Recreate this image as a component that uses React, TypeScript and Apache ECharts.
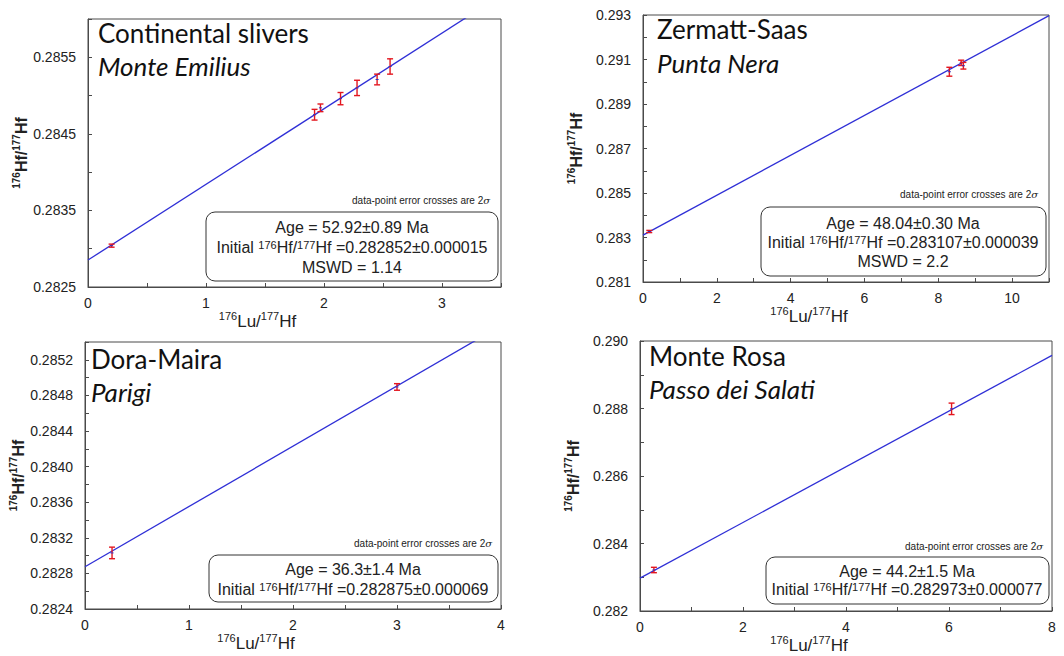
import React, { useEffect, useRef } from 'react';
import * as echarts from 'echarts';

// ---------- Panel 1: Continental slivers / Monte Emilius ----------
const p1Lu = [0.2, 1.92, 1.97, 2.14, 2.28, 2.45, 2.56];
const p1Hf = [0.28304, 0.28475, 0.28484, 0.28496, 0.2851, 0.28521, 0.28538];
const p1Err = [0.00002, 0.00007, 0.00005, 0.00008, 0.0001, 0.00007, 0.0001];
const p1LineLu = [0, 3.5];
const p1LineHf = [0.282852, 0.28631];
const p1Title = ['Continental slivers', 'Monte Emilius'];
const p1Legend = ['Age = 52.92±0.89 Ma', 'Initial {sup|176}Hf/{sup|177}Hf =0.282852±0.000015', 'MSWD = 1.14'];

// ---------- Panel 2: Zermatt-Saas / Punta Nera ----------
const p2Lu = [0.17, 8.3, 8.62, 8.68];
const p2Hf = [0.28327, 0.29045, 0.29085, 0.29072];
const p2Err = [0.00005, 0.0002, 0.00012, 0.00015];
const p2LineLu = [0, 11];
const p2LineHf = [0.283107, 0.29297];
const p2Title = ['Zermatt-Saas', 'Punta Nera'];
const p2Legend = ['Age = 48.04±0.30 Ma', 'Initial {sup|176}Hf/{sup|177}Hf =0.283107±0.000039', 'MSWD = 2.2'];

// ---------- Panel 3: Dora-Maira / Parigi ----------
const p3Lu = [0.26, 3.0];
const p3Hf = [0.28303, 0.284895];
const p3Err = [0.000065, 0.000037];
const p3LineLu = [0, 4];
const p3LineHf = [0.282875, 0.285583];
const p3Title = ['Dora-Maira', 'Parigi'];
const p3Legend = ['Age = 36.3±1.4 Ma', 'Initial {sup|176}Hf/{sup|177}Hf =0.282875±0.000069'];

// ---------- Panel 4: Monte Rosa / Passo dei Salati ----------
const p4Lu = [0.27, 6.05];
const p4Hf = [0.283215, 0.28799];
const p4Err = [0.00008, 0.00017];
const p4LineLu = [0, 8];
const p4LineHf = [0.282973, 0.289573];
const p4Title = ['Monte Rosa', 'Passo dei Salati'];
const p4Legend = ['Age = 44.2±1.5 Ma', 'Initial {sup|176}Hf/{sup|177}Hf =0.282973±0.000077'];

const noteText = 'data-point error crosses are 2{i|σ}';
const xName = '{sup|176}{n|Lu/}{sup|177}{n|Hf}';
const yName = '{sup|176}{n|Hf/}{sup|177}{n|Hf}';

const AXIS_COLOR = '#4a4a4a';
const LABEL_FONT = 'Liberation Sans, Arial, sans-serif';
const TITLE_FONT = 'Lato, "Noto Sans", sans-serif';

type Layout = {
  grid: { left: number; top: number; width: number; height: number };
  x: { max: number; interval: number; every: number };
  y: { min: number; max: number; interval: number; every: number; dec: number };
  title: { x: number; y1: number; y2: number };
  box: { x: number; y: number; w: number; h: number; cx: number; ys: number[] };
  note: { x: number; y: number };
};

const layouts: Layout[] = [
  {
    grid: { left: 88, top: 19, width: 413, height: 268 },
    x: { max: 3.5, interval: 0.5, every: 1 },
    y: { min: 0.2825, max: 0.286, interval: 0.0005, every: 0.001, dec: 4 },
    title: { x: 98, y1: 33, y2: 66 },
    box: { x: 206, y: 212, w: 292, h: 69, cx: 352, ys: [227, 247, 267] },
    note: { x: 490, y: 200 },
  },
  {
    grid: { left: 643, top: 15, width: 406, height: 267 },
    x: { max: 11, interval: 1, every: 2 },
    y: { min: 0.281, max: 0.293, interval: 0.001, every: 0.002, dec: 3 },
    title: { x: 657, y1: 29, y2: 63 },
    box: { x: 761, y: 207, w: 285, h: 69, cx: 903, ys: [223, 242, 261] },
    note: { x: 1038, y: 194 },
  },
  {
    grid: { left: 85, top: 342, width: 416, height: 267 },
    x: { max: 4, interval: 0.5, every: 1 },
    y: { min: 0.2824, max: 0.2854, interval: 0.0002, every: 0.0004, dec: 4 },
    title: { x: 91, y1: 359, y2: 392 },
    box: { x: 209, y: 555, w: 289, h: 47, cx: 353, ys: [569, 589] },
    note: { x: 492, y: 543 },
  },
  {
    grid: { left: 640, top: 341, width: 412, height: 270 },
    x: { max: 8, interval: 1, every: 2 },
    y: { min: 0.282, max: 0.29, interval: 0.001, every: 0.002, dec: 3 },
    title: { x: 649, y1: 356, y2: 389 },
    box: { x: 766, y: 557, w: 283, h: 47, cx: 907, ys: [571, 589] },
    note: { x: 1043, y: 546 },
  },
];

const panelData = [
  { lu: p1Lu, hf: p1Hf, err: p1Err, lineLu: p1LineLu, lineHf: p1LineHf, title: p1Title, legend: p1Legend },
  { lu: p2Lu, hf: p2Hf, err: p2Err, lineLu: p2LineLu, lineHf: p2LineHf, title: p2Title, legend: p2Legend },
  { lu: p3Lu, hf: p3Hf, err: p3Err, lineLu: p3LineLu, lineHf: p3LineHf, title: p3Title, legend: p3Legend },
  { lu: p4Lu, hf: p4Hf, err: p4Err, lineLu: p4LineLu, lineHf: p4LineHf, title: p4Title, legend: p4Legend },
];

const isLabeled = (v: number, min: number, every: number) => {
  const k = (v - min) / every;
  return Math.abs(k - Math.round(k)) < 1e-6;
};

function buildOption() {
  const grid: any[] = [];
  const xAxis: any[] = [];
  const yAxis: any[] = [];
  const series: any[] = [];
  const graphic: any[] = [];

  layouts.forEach((L, i) => {
    const D = panelData[i];
    grid.push({
      ...L.grid,
      show: true,
      borderColor: AXIS_COLOR,
      borderWidth: 1,
      backgroundColor: 'transparent',
    });
    xAxis.push({
      type: 'value',
      gridIndex: i,
      min: 0,
      max: L.x.max,
      interval: L.x.interval,
      axisLine: { show: true, onZero: false, lineStyle: { color: AXIS_COLOR, width: 1 } },
      axisTick: { show: true, inside: true, length: 4, lineStyle: { color: AXIS_COLOR } },
      splitLine: { show: false },
      axisLabel: {
        color: '#222',
        fontSize: 14,
        fontFamily: LABEL_FONT,
        margin: 9,
        formatter: (v: number) => (isLabeled(v, 0, L.x.every) ? String(Math.round(v)) : ''),
      },
      name: xName,
      nameLocation: 'middle',
      nameGap: 23,
      nameTextStyle: {
        color: '#222',
        fontFamily: LABEL_FONT,
        padding: [0, 74, 0, 0],
        rich: {
          n: { fontSize: 17, fontFamily: LABEL_FONT, color: '#222', lineHeight: 19, verticalAlign: 'bottom' },
          sup: { fontSize: 11, fontFamily: LABEL_FONT, color: '#222', lineHeight: 11, verticalAlign: 'top' },
        },
      },
    });
    yAxis.push({
      type: 'value',
      gridIndex: i,
      min: L.y.min,
      max: L.y.max,
      interval: L.y.interval,
      axisLine: { show: true, onZero: false, lineStyle: { color: AXIS_COLOR, width: 1 } },
      axisTick: { show: true, inside: true, length: 4, lineStyle: { color: AXIS_COLOR } },
      splitLine: { show: false },
      axisLabel: {
        color: '#222',
        fontSize: 14,
        fontFamily: LABEL_FONT,
        margin: 12,
        formatter: (v: number) => (isLabeled(v, L.y.min, L.y.every) ? v.toFixed(L.y.dec) : ''),
      },
      name: yName,
      nameLocation: 'middle',
      nameGap: 59,
      nameTextStyle: {
        color: '#222',
        fontFamily: LABEL_FONT,
        rich: {
          n: { fontSize: 16, fontWeight: 'bold', fontFamily: LABEL_FONT, color: '#222', lineHeight: 18, verticalAlign: 'bottom' },
          sup: { fontSize: 10, fontWeight: 'bold', fontFamily: LABEL_FONT, color: '#222', lineHeight: 10, verticalAlign: 'top' },
        },
      },
    });

    series.push({
      type: 'line',
      xAxisIndex: i,
      yAxisIndex: i,
      data: D.lineLu.map((x, k) => [x, D.lineHf[k]]),
      showSymbol: false,
      symbol: 'none',
      clip: true,
      lineStyle: { color: '#2f2fd6', width: 1.3 },
      silent: true,
      z: 2,
    });
    series.push({
      type: 'custom',
      xAxisIndex: i,
      yAxisIndex: i,
      data: D.lu.map((x, k) => [x, D.hf[k], D.err[k]]),
      encode: { x: 0, y: 1 },
      z: 3,
      renderItem: (params: any, api: any) => {
        const x = api.value(0);
        const y = api.value(1);
        const e = api.value(2);
        const top = api.coord([x, y + e]);
        const bot = api.coord([x, y - e]);
        const c = api.coord([x, y]);
        const hw = 3;
        const st = { stroke: '#e3161f', lineWidth: 1.4 };
        return {
          type: 'group',
          children: [
            { type: 'line', shape: { x1: top[0], y1: top[1], x2: bot[0], y2: bot[1] }, style: st },
            { type: 'line', shape: { x1: top[0] - hw, y1: top[1], x2: top[0] + hw, y2: top[1] }, style: st },
            { type: 'line', shape: { x1: bot[0] - hw, y1: bot[1], x2: bot[0] + hw, y2: bot[1] }, style: st },
            { type: 'line', shape: { x1: c[0] - 1.5, y1: c[1], x2: c[0] + 1.5, y2: c[1] }, style: { stroke: '#3030c0', lineWidth: 1 } },
          ],
        };
      },
    });

    // titles
    graphic.push({
      type: 'text',
      x: L.title.x,
      y: L.title.y1,
      style: { text: D.title[0], fontSize: 26, fontFamily: TITLE_FONT, fill: '#111', align: 'left', verticalAlign: 'middle' },
    });
    graphic.push({
      type: 'text',
      x: L.title.x,
      y: L.title.y2,
      style: { text: D.title[1], fontSize: 26, fontStyle: 'italic', fontFamily: TITLE_FONT, fill: '#111', align: 'left', verticalAlign: 'middle' },
    });
    // note
    graphic.push({
      type: 'text',
      x: L.note.x,
      y: L.note.y,
      style: {
        text: noteText,
        fontSize: 10,
        fontFamily: LABEL_FONT,
        fill: '#222',
        align: 'right',
        verticalAlign: 'middle',
        rich: { i: { fontStyle: 'italic', fontSize: 10, fontFamily: 'DejaVu Serif, serif', fill: '#222' } },
      },
    });
    // legend box
    graphic.push({
      type: 'rect',
      shape: { x: L.box.x, y: L.box.y, width: L.box.w, height: L.box.h, r: 9 },
      style: { fill: '#fff', stroke: '#333', lineWidth: 1 },
      z: 10,
    });
    D.legend.forEach((line, k) => {
      graphic.push({
        type: 'text',
        x: L.box.cx,
        y: L.box.ys[k],
        z: 11,
        style: {
          text: line,
          fontSize: 16,
          fontFamily: LABEL_FONT,
          fill: '#222',
          align: 'center',
          verticalAlign: 'middle',
          rich: {
            sup: { fontSize: 11, fontFamily: LABEL_FONT, fill: '#222', lineHeight: 11, verticalAlign: 'top' },
          },
        },
      });
    });
  });

  return {
    animation: false,
    backgroundColor: '#fff',
    grid,
    xAxis,
    yAxis,
    series,
    graphic,
  };
}

export default function App() {
  const ref = useRef<HTMLDivElement>(null);
  useEffect(() => {
    if (!ref.current) return;
    const chart = echarts.init(ref.current, undefined, { renderer: 'svg' });
    chart.setOption(buildOption() as any);
    return () => chart.dispose();
  }, []);
  return (
    <div
      ref={ref}
      style={{ position: 'absolute', left: 0, top: 0, width: 1064, height: 656, background: '#fff' }}
    />
  );
}
